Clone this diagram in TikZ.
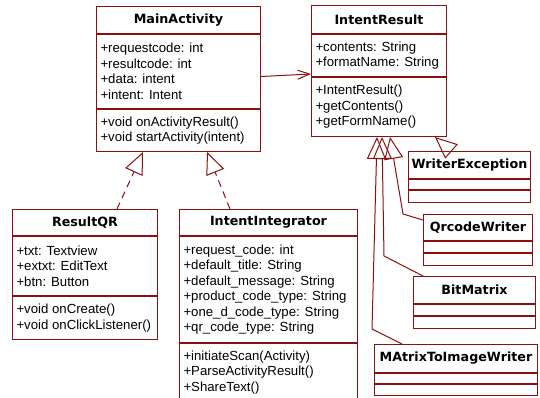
\documentclass[tikz,border=0pt]{standalone}
\usepackage{fontspec}
\setmainfont{Liberation Sans}
\newfontfamily\titlefam{DejaVu Sans}
\usepackage{xcolor}
\usetikzlibrary{arrows.meta}

\definecolor{umlred}{RGB}{140,16,16}

\tikzset{
  umltitle/.style={draw=umlred, line width=1pt, fill=white, anchor=north west,
    inner sep=0pt, font=\titlefam\bfseries\fontsize{12.7}{14}\selectfont},
  umlpart/.style={draw=umlred, line width=1pt, fill=white, anchor=north, align=flush left,
    inner xsep=4pt, inner ysep=0pt, font=\fontsize{13.2}{15.5}\selectfont},
  umlempty/.style={draw=umlred, line width=1pt, fill=white, anchor=north, inner sep=0pt},
  assoc/.style={draw=umlred, line width=1pt, -{Straight Barb[length=12pt,width=9pt]}},
  gen/.style={draw=umlred, line width=1pt, -{Triangle[open,length=22pt,width=19pt]}},
  real/.style={gen, dash pattern=on 7pt off 5pt},
}

\begin{document}
\begin{tikzpicture}[x=1pt, y=-1pt]
  \useasboundingbox (0,0) rectangle (540,397);
  \clip (0,0) rectangle (540,397);

  % MainActivity
  \node [umltitle, minimum width=164, minimum height=27] (matitle) at (96,6) {MainActivity};
  \node [umlpart, text width=156, minimum height=74] (maattr) at (matitle.south)
    {+requestcode: int\\+resultcode: int\\+data: intent\\+intent: Intent};
  \node [umlpart, text width=156, minimum height=42] (mameth) at (maattr.south)
    {+void onActivityResult()\\+void startActivity(intent)};

  % IntentResult
  \node [umltitle, minimum width=135, minimum height=28] (irtitle) at (311,5) {IntentResult};
  \node [umlpart, text width=127, minimum height=42] (irattr) at (irtitle.south)
    {+contents: String\\+formatName: String};
  \node [umlpart, text width=127, minimum height=59] (irmeth) at (irattr.south)
    {+IntentResult()\\+getContents()\\+getFormName()};

  % ResultQR
  \node [umltitle, minimum width=145, minimum height=26] (rqtitle) at (12,209) {ResultQR};
  \node [umlpart, text width=137, minimum height=59] (rqattr) at (rqtitle.south)
    {+txt: Textview\\+extxt: EditText\\+btn: Button};
  \node [umlpart, text width=137, minimum height=43] (rqmeth) at (rqattr.south)
    {+void onCreate()\\+void onClickListener()};

  % IntentIntegrator
  \node [umltitle, minimum width=178, minimum height=26] (iititle) at (179,209) {IntentIntegrator};
  \node [umlpart, text width=170, minimum height=106] (iiattr) at (iititle.south)
    {+request\_code: int\\+default\_title: String\\+default\_message: String\\
     +product\_code\_type: String\\+one\_d\_code\_type: String\\+qr\_code\_type: String};
  \node [umlpart, text width=170, minimum height=58] (iimeth) at (iiattr.south)
    {+initiateScan(Activity)\\+ParseActivityResult()\\+ShareText()};

  % small classes
  \node [umltitle, minimum width=122, minimum height=27] (wetitle) at (408,151) {WriterException};
  \node [umlempty, minimum width=122, minimum height=10] (weattr) at (wetitle.south) {};
  \node [umlempty, minimum width=122, minimum height=12] (wemeth) at (weattr.south) {};

  \node [umltitle, minimum width=109, minimum height=26] (qwtitle) at (423,214) {QrcodeWriter};
  \node [umlempty, minimum width=109, minimum height=11] (qwattr) at (qwtitle.south) {};
  \node [umlempty, minimum width=109, minimum height=12] (qwmeth) at (qwattr.south) {};

  \node [umltitle, minimum width=122, minimum height=27] (bmtitle) at (413,276) {BitMatrix};
  \node [umlempty, minimum width=122, minimum height=11] (bmattr) at (bmtitle.south) {};
  \node [umlempty, minimum width=122, minimum height=12] (bmmeth) at (bmattr.south) {};

  \node [umltitle, minimum width=163, minimum height=28] (mwtitle) at (374,344) {MAtrixToImageWriter};
  \node [umlempty, minimum width=163, minimum height=10] (mwattr) at (mwtitle.south) {};
  \node [umlempty, minimum width=163, minimum height=11] (mwmeth) at (mwattr.south) {};

  % connectors
  \draw [assoc] ([yshift=-5]maattr.east) -- ([yshift=3]irattr.south west);
  \draw [real] ([xshift=105]rqtitle.north west) -- ([xshift=47]mameth.south west);
  \draw [real] ([xshift=51]iititle.north west) -- ([xshift=111]mameth.south west);
  \draw [gen] ([xshift=28]mwtitle.north west) -- (372,329) -- ([xshift=66]irmeth.south west);
  \draw [gen] ([xshift=10]bmtitle.north west) -- (384,256) -- ([xshift=71]irmeth.south west);
  \draw [gen] ([yshift=-6]qwtitle.north west) -- (403,214) -- ([xshift=79]irmeth.south west);
  \draw [gen] ([xshift=43]wetitle.north west) -- ([xshift=124]irmeth.south west);
\end{tikzpicture}
\end{document}
